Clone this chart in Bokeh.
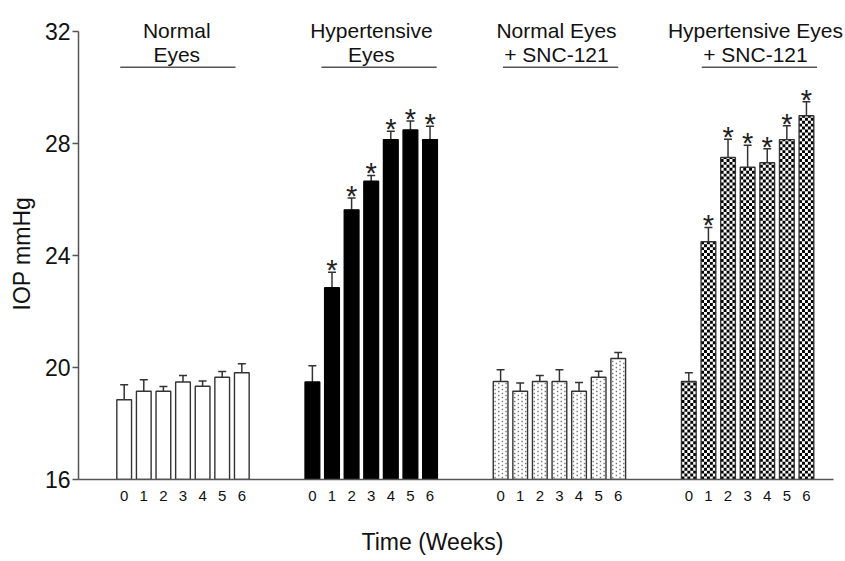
import math
from bokeh.plotting import figure
from bokeh.models import (Range1d, FixedTicker, ColumnDataSource, Whisker, TeeHead,
                          LinearAxis, Title)
from bokeh.core.properties import value
from bokeh.embed import file_html
from bokeh.resources import INLINE

# ---------------- data ----------------
weeks = [0, 1, 2, 3, 4, 5, 6]
group_line1 = ["Normal", "Hypertensive", "Normal Eyes", "Hypertensive Eyes"]
group_line2 = ["Eyes", "Eyes", "+ SNC-121", "+ SNC-121"]

iop_normal = [18.85, 19.15, 19.15, 19.48, 19.33, 19.65, 19.81]
sem_normal = [0.53, 0.41, 0.17, 0.23, 0.19, 0.21, 0.32]

iop_hyper = [19.48, 22.85, 25.63, 26.65, 28.14, 28.48, 28.14]
sem_hyper = [0.58, 0.55, 0.42, 0.21, 0.30, 0.32, 0.48]

iop_normal_snc = [19.50, 19.15, 19.50, 19.50, 19.15, 19.65, 20.32]
sem_normal_snc = [0.42, 0.30, 0.21, 0.42, 0.31, 0.22, 0.22]

iop_hyper_snc = [19.50, 24.49, 27.50, 27.15, 27.31, 28.14, 28.99]
sem_hyper_snc = [0.31, 0.51, 0.65, 0.79, 0.50, 0.49, 0.50]

sig_normal = [0, 0, 0, 0, 0, 0, 0]
sig_hyper = [0, 1, 1, 1, 1, 1, 1]
sig_normal_snc = [0, 0, 0, 0, 0, 0, 0]
sig_hyper_snc = [0, 1, 1, 1, 1, 1, 1]

y_ticks = [16, 20, 24, 28, 32]

means = [iop_normal, iop_hyper, iop_normal_snc, iop_hyper_snc]
sems = [sem_normal, sem_hyper, sem_normal_snc, sem_hyper_snc]
sigs = [sig_normal, sig_hyper, sig_normal_snc, sig_hyper_snc]

# ---------------- layout ----------------
GROUP_STEP = 48
BAR_STEP = 5
BAR_W = 3.75
PX_PER_X = 3.921
PX_PER_Y = 28.0
X0, X1, XAXIS_END = -11.65, 183.96, 180.9
Y0, Y1 = 16, 33.107
SPACER_AT = -10.0
header_dx = [-1.6, 0.05, -0.75, 2.0]
line_dx = [-1.3, 2.0, 0.3, 3.0]
LINE_HALF = 14.7
FONT = "Liberation Sans"
EDGE = "#333333"

p = figure(width=845, height=561,
           x_range=Range1d(X0, X1), y_range=Range1d(Y0, Y1),
           output_backend="svg", toolbar_location=None,
           min_border_left=78, min_border_right=0, min_border_top=0,
           min_border_bottom=82)
p.outline_line_color = None
p.grid.visible = False
p.background_fill_color = "white"
p.border_fill_color = "white"

all_x = []
overrides = {}
for g in range(4):
    xs = [g * GROUP_STEP + w * BAR_STEP for w in weeks]
    all_x += xs
    for x, w in zip(xs, weeks):
        overrides[x] = str(w)
    upper = [m + s for m, s in zip(means[g], sems[g])]
    src = ColumnDataSource(dict(x=xs, top=means[g], upper=upper))
    if g == 1:
        p.vbar(x="x", top="top", bottom=Y0, width=BAR_W, source=src,
               fill_color="black", line_color="black", line_width=1.4)
    else:
        p.vbar(x="x", top="top", bottom=Y0, width=BAR_W, source=src,
               fill_color="white", line_color=None)
        if g == 3:
            # checkerboard fill
            ncol = 5
            cw = BAR_W / ncol
            ch = cw * PX_PER_X / PX_PER_Y
            L, R, B, T = [], [], [], []
            for x, top in zip(xs, means[g]):
                left = x - BAR_W / 2
                r = 0
                while Y0 + r * ch < top:
                    b = Y0 + r * ch
                    t = min(b + ch, top)
                    for c in range(ncol):
                        if (r + c) % 2 == 0:
                            L.append(left + c * cw)
                            R.append(left + (c + 1) * cw)
                            B.append(b)
                            T.append(t)
                    r += 1
            p.quad(left=L, right=R, bottom=B, top=T, fill_color="black",
                   line_color=None)
        elif g == 2:
            # fine dotted fill
            ncol = 4
            cw = BAR_W / ncol
            ch = 4.0 / PX_PER_Y
            DX, DY = [], []
            for x, top in zip(xs, means[g]):
                left = x - BAR_W / 2
                for c in range(ncol):
                    r = 0
                    off = (c % 2) * ch / 2
                    while Y0 + off + (r + 0.5) * ch < top - 0.05:
                        DX.append(left + (c + 0.5) * cw)
                        DY.append(Y0 + off + (r + 0.5) * ch)
                        r += 1
            p.scatter(x=DX, y=DY, marker="square", size=1.4, fill_color="#777777",
                      line_color=None)
        p.vbar(x="x", top="top", bottom=Y0, width=BAR_W, source=src,
               fill_color=None, line_color=EDGE, line_width=1.4)
    wh = Whisker(base="x", lower="top", upper="upper", source=src,
                 dimension="height", line_color=EDGE, line_width=1.5,
                 upper_head=TeeHead(size=8, line_color=EDGE, line_width=1.5),
                 lower_head=None)
    p.add_layout(wh)
    sx = [x for x, s in zip(xs, sigs[g]) if s]
    sy = [u for u, s in zip(upper, sigs[g]) if s]
    if sx:
        p.text(x=sx, y=sy, text=["*"] * len(sx), text_align="center",
               text_baseline="alphabetic", y_offset=-2,
               text_font=value(FONT), text_font_size="29px", text_color="#222222")

# group headers
gc = [g * GROUP_STEP + 15 for g in range(4)]
p.text(x=[c + d for c, d in zip(gc, header_dx)], y=[32.036] * 4, text=group_line1,
       text_align="center", text_baseline="alphabetic",
       text_font=value(FONT), text_font_size="21px", text_color="#111111")
p.text(x=[c + d for c, d in zip(gc, header_dx)], y=[31.17] * 4, text=group_line2,
       text_align="center", text_baseline="alphabetic",
       text_font=value(FONT), text_font_size="21px", text_color="#111111")
p.segment(x0=[c + d - LINE_HALF for c, d in zip(gc, line_dx)], y0=[30.725] * 4,
          x1=[c + d + LINE_HALF for c, d in zip(gc, line_dx)], y1=[30.725] * 4,
          line_color="#555555", line_width=1.5)

# axes
p.yaxis.ticker = FixedTicker(ticks=y_ticks)
p.yaxis.bounds = (16, 32)
p.yaxis.minor_tick_line_color = None
p.yaxis.major_tick_out = 6
p.yaxis.major_tick_in = 0
p.yaxis.major_tick_line_color = "#555555"
p.yaxis.major_tick_line_width = 1.5
p.yaxis.axis_line_color = "#555555"
p.yaxis.axis_line_width = 1.5
p.yaxis.major_label_standoff = 2
p.yaxis.major_label_text_font = FONT
p.yaxis.major_label_text_font_size = "23px"
p.yaxis.major_label_text_color = "#111111"

p.xaxis.ticker = FixedTicker(ticks=all_x)
p.xaxis.bounds = (X0, XAXIS_END)
p.xaxis.major_label_overrides = overrides
p.xaxis.minor_tick_line_color = None
p.xaxis.major_tick_line_color = None
p.xaxis.major_tick_out = 0
p.xaxis.major_tick_in = 0
p.xaxis.axis_line_color = "#555555"
p.xaxis.axis_line_width = 1.5
p.xaxis.major_label_standoff = 11
p.xaxis.major_label_text_font = FONT
p.xaxis.major_label_text_font_size = "15px"
p.xaxis.major_label_text_color = "#111111"

# invisible spacer axis between the week labels and the axis title
spacer = LinearAxis(ticker=FixedTicker(ticks=[SPACER_AT]), axis_line_color=None,
                    major_tick_line_color="white", minor_tick_line_color=None,
                    major_tick_out=22, major_tick_in=0, minor_tick_out=0,
                    major_label_standoff=0, major_label_overrides={SPACER_AT: ""},
                    major_label_text_font_size="1px")
p.add_layout(spacer, "below")

p.add_layout(Title(text="IOP mmHg", align="left", offset=169, standoff=9,
                   vertical_align="top",
                   text_font=FONT, text_font_size="23px", text_font_style="normal",
                   text_color="#111111"), "left")
p.add_layout(Title(text="Time (Weeks)", align="left", offset=283, standoff=2,
                   vertical_align="bottom",
                   text_font=FONT, text_font_size="23px", text_font_style="normal",
                   text_color="#111111"), "below")

open("out.html", "w").write(file_html(p, INLINE))
